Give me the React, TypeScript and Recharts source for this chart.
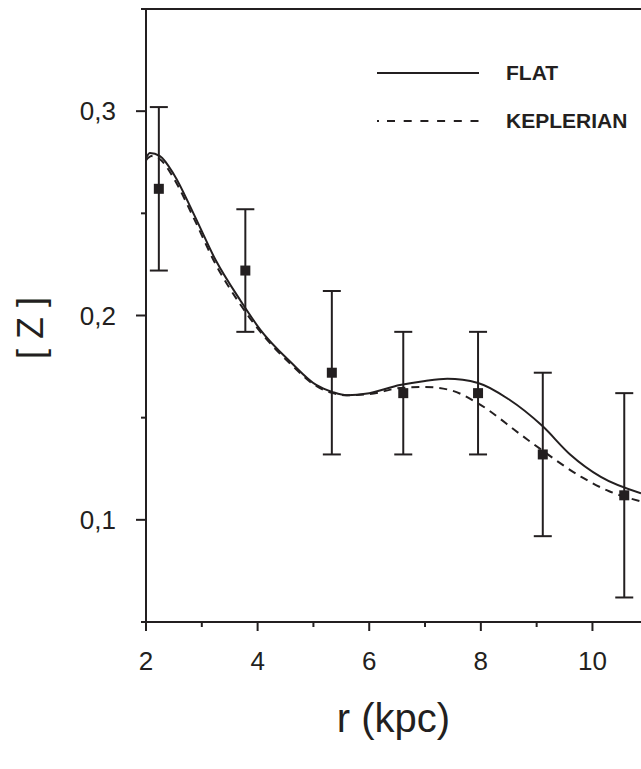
import { ComposedChart, Line, Scatter, ErrorBar, XAxis, YAxis, ReferenceLine } from 'recharts'

const INK = '#231f20'
const FONT = '"Liberation Sans", Arial, sans-serif'

// observed metallicity gradient
const obsR = [2.23, 3.78, 5.33, 6.61, 7.95, 9.11, 10.57]
const obsZ = [0.262, 0.222, 0.172, 0.162, 0.162, 0.132, 0.112]
const obsErr = [0.04, 0.03, 0.04, 0.03, 0.03, 0.04, 0.05]

// model curves
const flatR = [2.0, 2.07, 2.25, 2.5, 2.85, 3.25, 3.7, 4.05, 4.6, 5.05, 5.35, 5.6, 6.0, 6.55, 7.0, 7.4, 7.95, 8.5, 9.1, 9.6, 10.15, 10.87]
const flatZ = [0.277, 0.2795, 0.278, 0.269, 0.25, 0.227, 0.207, 0.193, 0.177, 0.166, 0.1625, 0.161, 0.162, 0.166, 0.168, 0.169, 0.167, 0.159, 0.146, 0.132, 0.121, 0.113]
const kepR = [2.0, 2.1, 2.25, 2.5, 2.85, 3.25, 3.7, 4.05, 4.6, 5.05, 5.35, 5.6, 6.0, 6.55, 7.0, 7.45, 7.95, 8.7, 9.1, 9.8, 10.3, 10.87]
const kepZ = [0.276, 0.278, 0.2765, 0.267, 0.248, 0.225, 0.205, 0.192, 0.176, 0.1655, 0.162, 0.161, 0.1615, 0.1645, 0.165, 0.1635, 0.157, 0.142, 0.134, 0.121, 0.114, 0.109]

const xTicks = [2, 3, 4, 5, 6, 7, 8, 9, 10]
const xLabeled = [2, 4, 6, 8, 10]
const yTicks = [0.05, 0.1, 0.15, 0.2, 0.25, 0.3, 0.35]
const yLabeled = [0.1, 0.2, 0.3]

const legendItems = [
  { name: 'FLAT', dash: undefined },
  { name: 'KEPLERIAN', dash: '2 8 8 8.7 8 8.7 8 8.7 8 8.7 8 8.7 8 200' },
]

const points = obsR.map((r, i) => ({ r, z: obsZ[i], err: obsErr[i] }))
const flat = flatR.map((r, i) => ({ r, z: flatZ[i] }))
const kepler = kepR.map((r, i) => ({ r, z: kepZ[i] }))

const XTick = (props: any) => {
  const { x, y, payload } = props
  const major = xLabeled.includes(payload.value)
  return (
    <g>
      <line x1={x} x2={x} y1={y} y2={y + (major ? 9 : 5)} stroke={INK} strokeWidth={2} />
      {major && (
        <text x={x} y={y + 48} textAnchor="middle" fontSize={26} fontFamily={FONT} fill={INK}>
          {payload.value}
        </text>
      )}
    </g>
  )
}

const YTick = (props: any) => {
  const { x, y, payload } = props
  const v = Math.round(payload.value * 100) / 100
  const major = yLabeled.includes(v)
  return (
    <g>
      <line x1={x - (major ? 10 : 5)} x2={x} y1={y} y2={y} stroke={INK} strokeWidth={2} />
      {major && (
        <text x={x - 30} y={y} dy={9} textAnchor="end" fontSize={26} fontFamily={FONT} fill={INK}>
          {v.toFixed(1).replace('.', ',')}
        </text>
      )}
    </g>
  )
}

const Square = (props: any) => {
  const { cx, cy } = props
  return <rect x={cx - 5} y={cy - 5} width={10} height={10} fill={INK} />
}

export default function App() {
  return (
    <div style={{ position: 'absolute', left: 0, top: 0, width: 641, height: 769, overflow: 'hidden', background: '#fff' }}>
      <ComposedChart width={641} height={769} margin={{ top: 9, right: 0, bottom: 0, left: 0 }}>
        <XAxis
          type="number"
          dataKey="r"
          domain={[2, 10.87]}
          ticks={xTicks}
          allowDataOverflow
          height={147}
          tickSize={0}
          tickMargin={0}
          tick={<XTick />}
          axisLine={{ stroke: INK, strokeWidth: 2 }}
          tickLine={false}
          label={(p: any) => {
            const vb = p.viewBox
            return (
              <text x={vb.x + vb.width / 2} y={732} textAnchor="middle" fontSize={40} fontFamily={FONT} fill={INK}>
                r (kpc)
              </text>
            )
          }}
        />
        <YAxis
          type="number"
          dataKey="z"
          domain={[0.05, 0.35]}
          ticks={yTicks}
          allowDataOverflow
          width={146}
          tickSize={0}
          tickMargin={0}
          tick={<YTick />}
          axisLine={{ stroke: INK, strokeWidth: 2 }}
          tickLine={false}
          label={() => (
            <text x={43} y={328} transform="rotate(-90 43 328)" textAnchor="middle" fontSize={36} fontFamily={FONT} fill={INK}>
              [ Z ]
            </text>
          )}
        />
        <ReferenceLine y={0.35} stroke={INK} strokeWidth={2} />
        <Line data={flat} dataKey="z" type="monotone" stroke={INK} strokeWidth={2} dot={false} isAnimationActive={false} />
        <Line data={kepler} dataKey="z" type="monotone" stroke={INK} strokeWidth={2} strokeDasharray="8 6" dot={false} isAnimationActive={false} />
        <Scatter data={points} dataKey="z" shape={<Square />} isAnimationActive={false}>
          <ErrorBar dataKey="err" direction="y" width={9} stroke={INK} strokeWidth={2} />
        </Scatter>
      </ComposedChart>
      <svg width={300} height={90} style={{ position: 'absolute', left: 360, top: 45 }}>
        {legendItems.map((it, i) => (
          <g key={it.name} transform={`translate(0, ${28 + i * 48})`}>
            <line x1={17} x2={119} y1={0} y2={0} stroke={INK} strokeWidth={2} strokeDasharray={it.dash} />
            <text x={146} y={0} dy={7} fontSize={21} fontWeight="bold" fontFamily={FONT} fill={INK}>
              {it.name}
            </text>
          </g>
        ))}
      </svg>
    </div>
  )
}
